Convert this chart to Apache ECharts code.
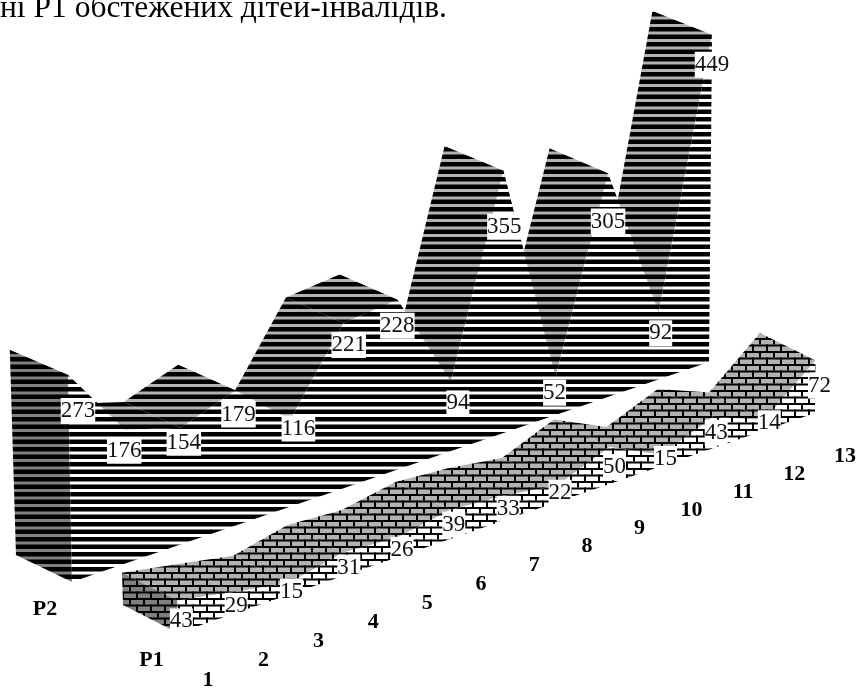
<!DOCTYPE html>
<html><head><meta charset="utf-8">
<style>html,body{margin:0;padding:0;background:#fff}#c{width:858px;height:690px}</style>
<script src="https://cdn.jsdelivr.net/npm/echarts@6/dist/echarts.min.js"></script>
</head><body><div id="c"></div>
<script>
const categories = ['1','2','3','4','5','6','7','8','9','10','11','12','13'];
const valuesP1 = [43,29,15,31,26,39,33,22,50,15,43,14,72];
const valuesP2 = [273,176,154,179,116,221,228,94,355,52,305,92,449];
const titleText = 'ні Р1 обстежених дітей-інвалідів.';

// label nudges relative to the projected top-front corner
const nudgeP1 = [[4,21],[3,14],[3,8],[6,15],[5,12],[3,15],[4,13],[3,7],[5,20],[4,4],[3,16],[5,3],[4,25]];
const nudgeP2 = [[10,36],[-1,21],[3,15],[3,24],[8,9],[5,22],[0,26],[7,22],[1,56],[-1,16],[0,48],[2,21],[0,30]];

const L=178, W=637, B=633, PXV=0.76;
const chart = echarts.init(document.getElementById('c'));

function stripes(bg){
  const c=document.createElement('canvas'); c.width=4; c.height=15;
  const g=c.getContext('2d'); g.fillStyle='#000'; g.fillRect(0,0,4,15);
  g.fillStyle=bg; g.fillRect(0,1.5,4,3); g.fillRect(0,9,4,3); return c;
}
function bricks(bg){
  const c=document.createElement('canvas'); c.width=14; c.height=13;
  const g=c.getContext('2d'); g.fillStyle=bg; g.fillRect(0,0,14,13);
  g.fillStyle='#000';
  g.fillRect(0,0,14,2); g.fillRect(0,6.5,14,2);
  g.fillRect(3,0,2,6.5); g.fillRect(10,6.5,2,6.5);
  return c;
}
const pat = (cv)=>({image:cv,repeat:'repeat'});
const styles = {
  P2:{front:pat(stripes('#fff')),top:pat(stripes('#b2b2b2')),side:pat(stripes('#808080'))},
  P1:{front:pat(bricks('#fff')),top:pat(bricks('#b2b2b2')),side:pat(bricks('#808080'))}
};
const depths = {P1:{front:[0,0],back:[-55,-28]},P2:{front:[-106,-51],back:[-162,-78]}};

function project(pt,dep,isBack){
  const t=(pt[0]-L)/W, k=0.05, tp=t*(1+k)/(1+k*t);
  const hv=(B-pt[1])/PXV;
  const s=0.758-0.0293*t-(isBack?0.007:0);
  const lean=-0.0147+0.0214*t-(isBack?0.008:0);
  return [L+W*tp+dep[0]+hv*lean, B-220*tp+dep[1]-hv*s];
}

function makeSeries(name,values,nudge,z){
  const st=styles[name], d=depths[name];
  return {
    type:'custom',name,z,silent:true,animation:false,clip:false,
    coordinateSystem:'cartesian2d',
    data:values.map((v,i)=>[i,v]),
    encode:{x:0,y:1},
    renderItem(params,api){
      const i=params.dataIndex, v=values[i];
      const C=(idx,val)=>api.coord([idx,val]);
      const F=(idx,val)=>project(C(idx,val),d.front,false);
      const K=(idx,val)=>project(C(idx,val),d.back,true);
      const ch=[];
      if(i<values.length-1){
        ch.push({type:'polygon',z2:100-i,shape:{points:[K(i,v),F(i,v),F(i+1,values[i+1]),K(i+1,values[i+1])]},style:{fill:st.top}});
      }
      if(i===0){
        ch.push({type:'polygon',z2:150,shape:{points:[K(0,v),F(0,v),F(0,0),K(0,0)]},style:{fill:st.side}});
        const pts=values.map((_,j)=>F(j,0));
        for(let j=values.length-1;j>=0;j--) pts.push(F(j,values[j]));
        ch.push({type:'polygon',z2:200,shape:{points:pts},style:{fill:st.front}});
        const m=project(C(0,0),[(d.front[0]+d.back[0])/2,(d.front[1]+d.back[1])/2],false);
        ch.push({type:'text',z2:400,style:{text:name,x:m[0]+1,y:m[1]+41,align:'center',verticalAlign:'middle',font:'bold 22px "Liberation Serif"',fill:'#000'}});
      }
      const top=F(i,v);
      ch.push({type:'text',z2:300,style:{text:String(v),x:top[0]+nudge[i][0],y:top[1]+nudge[i][1],align:'center',verticalAlign:'middle',
        font:'23px "Liberation Serif"',fill:'#111',backgroundColor:'#fff',padding:[0,0,0,0],lineHeight:26}});
      if(name==='P1'){
        const b=project(C(i,0),[30,47],false);
        ch.push({type:'text',z2:400,style:{text:categories[i],x:b[0],y:b[1]-4*i/12,align:'center',verticalAlign:'middle',font:'bold 22px "Liberation Serif"',fill:'#000'}});
      }
      return {type:'group',children:ch};
    }
  };
}

chart.setOption({
  animation:false,
  backgroundColor:'#fff',
  title:{text:titleText,left:0,top:-7,padding:0,textStyle:{fontFamily:'Liberation Serif',fontWeight:'normal',fontSize:31.5,color:'#000'}},
  grid:{left:L,width:W,top:B-500*PXV,height:500*PXV},
  xAxis:{type:'category',data:categories,boundaryGap:false,show:false},
  yAxis:{type:'value',min:0,max:500,show:false},
  series:[makeSeries('P2',valuesP2,nudgeP2,2),makeSeries('P1',valuesP1,nudgeP1,3)]
});
</script></body></html>
